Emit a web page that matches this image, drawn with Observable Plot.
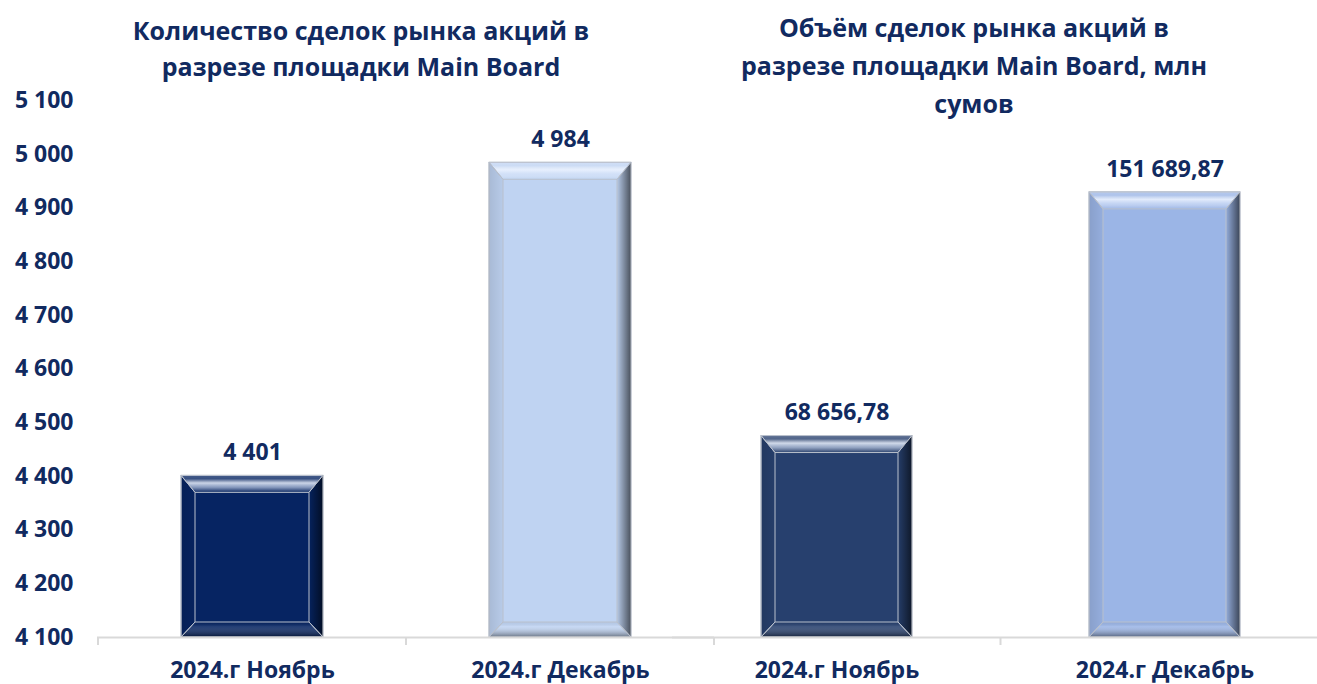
<!DOCTYPE html>
<html><head><meta charset="utf-8">
<script src="https://cdn.jsdelivr.net/npm/d3@7"></script>
<script src="https://cdn.jsdelivr.net/npm/@observablehq/plot@0.6"></script>
<style>
html,body{margin:0;padding:0;background:#fff;}
#wrap{position:relative;width:1317px;height:684px;overflow:hidden;font-family:"Open Sans",sans-serif;color:#112a60;}
.title{position:absolute;text-align:center;font-weight:700;font-size:25px;white-space:nowrap;}
.chart{position:absolute;top:0;}
.chart svg{max-width:none !important;}
</style></head><body>
<div id="wrap">
 <div class="chart" id="c1" style="left:0px;width:720px;"></div>
 <div class="chart" id="c2" style="left:672px;width:656px;"></div>
 <div class="title" id="t1" style="left:61px;width:600px;top:12px;line-height:36px;"></div>
 <div class="title" id="t2" style="left:674px;width:600px;top:8px;line-height:38px;"></div>
</div>
<script>
// ---- data ----
const categories = ["2024.г Ноябрь", "2024.г Декабрь"];
const countValues = [4401, 4984];
const volumeValues = [68656.78, 151689.87];
const countTicks = [4100, 4200, 4300, 4400, 4500, 4600, 4700, 4800, 4900, 5000, 5100];
const titleCount = ["Количество сделок рынка акций в", "разрезе площадки Main Board"];
const titleVolume = ["Объём сделок рынка акций в", "разрезе площадки Main Board, млн", "сумов"];

// ---- styles ----
const textColor = "#112a60";
const countColors = ["#062462", "#bfd3f2"];
const volumeColors = ["#27406e", "#9bb5e6"];

const ru = d3.formatLocale({decimal: ",", thousands: "\u00a0", grouping: [3], currency: ["", ""]});
const fmtInt = ru.format(",d");
const fmtDec = ru.format(",.2f");

document.getElementById("t1").innerHTML = titleCount.join("<br>");
document.getElementById("t2").innerHTML = titleVolume.join("<br>");

const countData = categories.map((c, i) => ({cat: c, value: countValues[i]}));
const volumeData = categories.map((c, i) => ({cat: c, value: volumeValues[i]}));

const baseStyle = {fontFamily: "'Open Sans', sans-serif", fontSize: "23px", fontWeight: "700", color: textColor, background: "transparent", overflow: "visible", maxWidth: "none"};

const p1 = Plot.plot({
  width: 720, height: 684, marginLeft: 97, marginRight: 6, marginTop: 100, marginBottom: 47,
  style: baseStyle,
  x: {domain: categories, paddingInner: 0.54, paddingOuter: 0.27, label: null, tickSize: 0, tickPadding: 24},
  y: {domain: [4100, 5100], ticks: countTicks, tickFormat: fmtInt, label: null, tickSize: 0, tickPadding: 24},
  color: {domain: categories, range: countColors},
  marks: [
    Plot.barY(countData, {x: "cat", y1: 4100, y2: "value", fill: "cat", stroke: "#b9c0cc", strokeWidth: 1}),
    Plot.ruleY([4100], {stroke: "#d9d9d9", strokeWidth: 2}),
    Plot.text(countData, {x: "cat", y: "value", text: d => fmtInt(d.value), dy: -23, fill: textColor, fontSize: 23, fontWeight: 700})
  ]
});

const p2 = Plot.plot({
  width: 656, height: 684, marginLeft: 0, marginRight: 0, marginTop: 100, marginBottom: 47,
  style: baseStyle,
  x: {domain: categories, paddingInner: 0.54, paddingOuter: 0.27, label: null, tickSize: 0, tickPadding: 24},
  y: {domain: [0, 183000], axis: null},
  color: {domain: categories, range: volumeColors},
  marks: [
    Plot.barY(volumeData, {x: "cat", y1: 0, y2: "value", fill: "cat", stroke: "#b9c0cc", strokeWidth: 1}),
    Plot.ruleY([0], {stroke: "#d9d9d9", strokeWidth: 2}),
    Plot.text(volumeData, {x: "cat", y: "value", text: d => fmtDec(d.value), dy: -23, fill: textColor, fontSize: 23, fontWeight: 700})
  ]
});

document.getElementById("c1").appendChild(p1);
document.getElementById("c2").appendChild(p2);

function decorate(plot, id, skipFirstTick) {
  const svg = d3.select(plot);
  const defs = svg.append("defs");
  function grad(name, vertical, stops) {
    const g = defs.append("linearGradient").attr("id", id + name)
      .attr("x1", 0).attr("y1", 0).attr("x2", vertical ? 0 : 1).attr("y2", vertical ? 1 : 0);
    stops.forEach(([o, c, op]) => g.append("stop").attr("offset", o).attr("stop-color", c).attr("stop-opacity", op));
  }
  grad("top", true, [[0, "#ffffff", 0.25], [0.2, "#ffffff", 0.2], [0.45, "#eef4ff", 0.85], [0.7, "#dde8fb", 0.6], [1, "#ffffff", 0]]);
  grad("right", false, [[0, "#000000", 0.05], [1, "#000000", 0.62]]);
  grad("bottom", true, [[0, "#000000", 0.05], [0.3, "#ffffff", 0.12], [1, "#000000", 0.45]]);
  grad("left", false, [[0, "#000000", 0.12], [1, "#000000", 0.04]]);
  const T = 17, S = 14, B = 15;
  svg.selectAll('g[aria-label="bar"] rect').each(function () {
    const x = +this.getAttribute("x"), y = +this.getAttribute("y");
    const w = +this.getAttribute("width"), h = +this.getAttribute("height");
    const g = d3.select(this.parentNode);
    const polys = [
      ["top", [[x, y], [x + w, y], [x + w - S, y + T], [x + S, y + T]]],
      ["left", [[x, y], [x + S, y + T], [x + S, y + h - B], [x, y + h]]],
      ["right", [[x + w, y], [x + w, y + h], [x + w - S, y + h - B], [x + w - S, y + T]]],
      ["bottom", [[x, y + h], [x + w, y + h], [x + w - S, y + h - B], [x + S, y + h - B]]]
    ];
    polys.forEach(([n, pts]) => g.append("polygon").attr("points", pts.map(p => p.join(",")).join(" ")).attr("fill", `url(#${id}${n})`));
  });
  // category boundary ticks
  const xs = plot.scale("x");
  const ys = plot.scale("y");
  const base = ys.range[0];
  const half = (xs.step - xs.bandwidth) / 2;
  const bounds = xs.domain.map(c => xs.apply(c) - half);
  bounds.push(xs.apply(xs.domain[xs.domain.length - 1]) + xs.bandwidth + half);
  bounds.forEach((bx, i) => {
    if (skipFirstTick && i === 0) return;
    svg.append("line").attr("x1", bx).attr("x2", bx).attr("y1", base).attr("y2", base + 8)
      .attr("stroke", "#d9d9d9").attr("stroke-width", 2);
  });
}
decorate(p1, "a", false);
decorate(p2, "b", true);
</script>
</body></html>
